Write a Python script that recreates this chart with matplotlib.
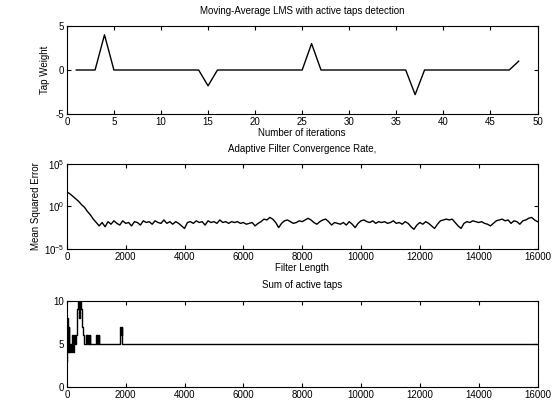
import numpy as np
import matplotlib
matplotlib.use("Agg")
import matplotlib.pyplot as plt
from matplotlib.ticker import FixedLocator, NullLocator

plt.rcParams['font.family'] = ['Liberation Sans', 'DejaVu Sans']
plt.rcParams['mathtext.fontset'] = 'custom'
plt.rcParams['mathtext.rm'] = 'Liberation Sans'
plt.rcParams['axes.unicode_minus'] = False

# ---- data: top panel (tap weights) ----
tap_index = list(range(1, 49))
tap_weight = [0, 0, 0, 4, 0, 0, 0, 0, 0, 0,
              0, 0, 0, 0, -1.8, 0, 0, 0, 0, 0,
              0, 0, 0, 0, 0, 3, 0, 0, 0, 0,
              0, 0, 0, 0, 0, 0, -2.8, 0, 0, 0,
              0, 0, 0, 0, 0, 0, 0, 1]

# ---- data: middle panel (log10 of MSE, sampled every 100 iterations) ----
mse_step = 100
mse_log10 = [
    1.7, 1.5, 1.2, 0.9, 0.6, 0.2, -0.1, -0.6, -1.0, -1.5,
    -1.9, -2.3, -1.9, -2.4, -1.8, -2.1, -1.7, -2.0, -2.2, -1.7,
    -2.0, -1.9, -2.3, -1.8, -1.9, -2.2, -1.7, -1.9, -1.8, -2.1,
    -1.7, -1.9, -2.0, -1.6, -2.0, -1.8, -2.1, -1.8, -2.0, -2.3,
    -2.6, -1.9, -1.8, -2.0, -1.7, -1.9, -1.8, -2.2, -1.7, -1.9,
    -1.8, -2.0, -1.6, -1.9, -1.8, -2.0, -1.8, -1.9, -1.8, -2.0,
    -1.9, -2.1, -2.0, -1.9, -2.3, -2.0, -1.8, -1.5, -1.6, -1.3,
    -1.5, -1.9, -2.5, -2.0, -1.7, -1.6, -1.8, -2.0, -1.9, -1.7,
    -1.8, -1.6, -1.4, -1.6, -1.9, -2.1, -1.8, -1.6, -1.5, -1.8,
    -2.2, -1.9, -2.0, -2.1, -1.9, -2.2, -1.8, -2.1, -2.5, -2.0,
    -1.7, -1.6, -1.8, -1.9, -1.7, -2.0, -1.8, -1.9, -1.8, -2.0,
    -1.9, -1.7, -2.0, -1.9, -2.1, -1.8, -2.0, -2.4, -2.7, -2.2,
    -1.9, -2.1, -1.8, -2.0, -2.3, -2.6, -2.1, -1.7, -1.6, -1.5,
    -1.6, -1.5, -1.9, -2.3, -2.6, -2.0, -1.8, -1.9, -1.7, -1.8,
    -1.9, -1.8, -2.0, -2.1, -2.3, -2.0, -1.7, -1.6, -1.5, -1.7,
    -1.6, -2.0, -1.7, -1.8, -2.1, -1.7, -1.6, -1.4, -1.3, -1.6,
    -1.8]

# ---- data: bottom panel (number of active taps, step changes) ----
active_x = [0, 20, 40, 60, 80, 100, 130, 160, 200, 240,
            270, 300, 330, 360, 380, 400, 440, 470, 500, 530,
            560, 600, 640, 680, 700, 720, 740, 760, 780, 800,
            1000, 1020, 1040, 1060, 1080, 1100, 1140, 1800, 1820, 1840,
            1860, 1880, 1900, 16000]
active_n = [3, 8, 4, 7, 4, 5, 4, 6, 4, 6,
            5, 6, 8, 9, 10, 8, 10, 9, 8, 7,
            6, 5, 6, 5, 6, 5, 6, 5, 6, 5,
            6, 5, 6, 5, 6, 5, 5, 6, 7, 6,
            7, 5, 5, 5]

fig = plt.figure(figsize=(5.57, 4.0), dpi=100)
FS = 7
TPAD = 9

def style(ax):
    ax.tick_params(direction='in', top=True, right=True, labelsize=FS,
                   length=3, width=0.8, pad=2)
    for s in ax.spines.values():
        s.set_linewidth(0.8)

left, width = 0.120, 0.845

ax1 = fig.add_axes([left, 0.715, width, 0.22])
ax1.plot(tap_index, tap_weight, color='black', lw=1.0)
ax1.set_xlim(0, 50)
ax1.set_ylim(-5, 5)
ax1.set_xticks(range(0, 51, 5))
ax1.set_yticks([-5, 0, 5])
ax1.set_title('Moving-Average LMS with active taps detection', fontsize=FS, pad=TPAD)
ax1.set_xlabel('Number of iterations', fontsize=FS, labelpad=1)
ax1.set_ylabel('Tap Weight', fontsize=FS, labelpad=4)
style(ax1)

ax2 = fig.add_axes([left, 0.378, width, 0.212])
mse_x = np.arange(len(mse_log10)) * mse_step
ax2.semilogy(mse_x, 10.0 ** np.array(mse_log10), color='black', lw=1.0)
ax2.set_xlim(0, 16000)
ax2.set_ylim(1e-5, 1e5)
ax2.set_xticks(range(0, 16001, 2000))
ax2.yaxis.set_major_locator(FixedLocator([1e-5, 1e0, 1e5]))
ax2.yaxis.set_minor_locator(NullLocator())
ax2.set_yticklabels([r'$10^{-5}$', r'$10^{0}$', r'$10^{5}$'])
ax2.set_title('Adaptive Filter Convergence Rate,', fontsize=FS, pad=TPAD)
ax2.set_xlabel('Filter Length', fontsize=FS, labelpad=1)
ax2.set_ylabel('Mean Squared Error', fontsize=FS, labelpad=2)
style(ax2)

ax3 = fig.add_axes([left, 0.033, width, 0.215])
ax3.plot(active_x, active_n, color='black', lw=1.0, drawstyle='steps-post')
ax3.set_xlim(0, 16000)
ax3.set_ylim(0, 10)
ax3.set_xticks(range(0, 16001, 2000))
ax3.set_yticks([0, 5, 10])
ax3.set_title('Sum of active taps', fontsize=FS, pad=TPAD)
style(ax3)

fig.savefig('out.png', dpi=100)
